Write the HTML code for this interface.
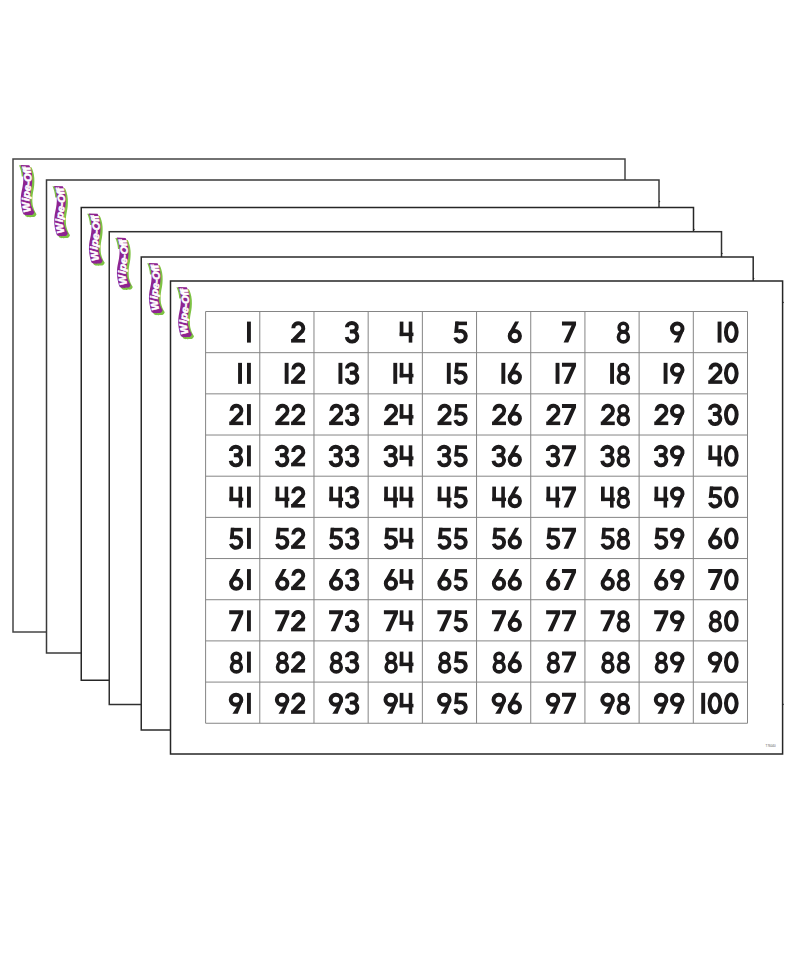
<!DOCTYPE html>
<html><head><meta charset="utf-8"><title>Wipe-Off Hundreds Chart</title>
<style>
html,body{margin:0;padding:0;background:#fff;}
body{width:800px;height:960px;overflow:hidden;font-family:"Liberation Sans",sans-serif;}
svg{display:block;}
</style></head><body>
<svg width="800" height="960" viewBox="0 0 800 960">
<defs><clipPath id="topclip"><rect x="0" y="0" width="12" height="17"/></clipPath><g id="g0"><ellipse cx="7.3" cy="10.5" rx="5.35" ry="8.95" fill="none" stroke-width="3.95"/></g><g id="g1"><rect x="0" y="0" width="3.9" height="21"/></g><g id="g2"><path d="M2.2,6.6 A5.0,5.0 0 1 1 11.4,9.3 L2.4,18.6" fill="none" stroke-width="3.95"/><rect x="0" y="17.4" width="14" height="3.6"/></g><g id="g3"><path d="M2.1,5.6 A4.9,4.2 0 1 1 7.0,9.8 M5.0,9.8 L7.0,9.8 A5.3,5.1 0 1 1 1.9,15.4" fill="none" stroke-width="3.95"/></g><g id="g4"><rect x="0" y="0" width="3.7" height="14.5"/><rect x="9.0" y="0" width="3.6" height="21"/><rect x="0" y="11" width="13.75" height="3.5"/></g><g id="g5"><rect x="2.0" y="0" width="11.75" height="3.6"/><path d="M2.1,0 L5.4,0 L5.0,11.2 L0.9,11.5 Z"/><path d="M4.55,10.0 A5.3,5.3 0 1 1 2.08,15.97" fill="none" stroke-width="3.95"/></g><g id="g6"><circle cx="7.03" cy="14.5" r="5.15" fill="none" stroke-width="3.95"/><path d="M7.3,0 L11.3,0 L3.9,13.6 L0.1,12.9 Z"/></g><g id="g7"><path d="M0,0 H14.06 V3.4 L6.3,21 H1.6 L9.6,3.8 H0 Z"/></g><g id="g8"><ellipse cx="6.8" cy="5.9" rx="4.25" ry="4.2" fill="none" stroke-width="3.4"/><ellipse cx="6.85" cy="15.3" rx="4.95" ry="4.95" fill="none" stroke-width="3.6"/></g><g id="g9"><ellipse cx="7.2" cy="6.9" rx="5.3" ry="5.0" fill="none" stroke-width="3.95"/><path d="M10.4,10.2 L14.4,7.6 L8.9,21 H3.6 Z"/></g></defs><rect x="13.0" y="159.0" width="612.00" height="473.00" fill="#fff" stroke="#444" stroke-width="1.5"/><g transform="translate(13.0,159.0)"><path d="M7.5,5.9 L16.3,6.2 C17.6,8.5 18.8,12 19.2,17 C19.5,22 19.0,27 18.0,31 C17.2,35 17.0,40 17.6,44 C18.2,47 19.5,50.5 21.4,53.2 C20.6,55 19.8,55.6 18.9,55.9 C18,56.3 17.2,55.6 16.2,56.1 C15.2,56.6 14.4,55.7 13.4,56.1 C12.4,56.4 11.5,55.9 10.5,55.3 C9.4,53 8.3,48.5 7.8,44 C7.5,40 7.9,35 8.9,31 C9.9,27 10.5,22 10.3,18 C10.1,13 9,9 7.5,5.9 Z" fill="#7dc243" transform="translate(2.1,2.0)"/><path d="M7.5,5.9 L16.3,6.2 C17.6,8.5 18.8,12 19.2,17 C19.5,22 19.0,27 18.0,31 C17.2,35 17.0,40 17.6,44 C18.2,47 19.5,50.5 21.4,53.2 C20.6,55 19.8,55.6 18.9,55.9 C18,56.3 17.2,55.6 16.2,56.1 C15.2,56.6 14.4,55.7 13.4,56.1 C12.4,56.4 11.5,55.9 10.5,55.3 C9.4,53 8.3,48.5 7.8,44 C7.5,40 7.9,35 8.9,31 C9.9,27 10.5,22 10.3,18 C10.1,13 9,9 7.5,5.9 Z" fill="#7dc243" transform="translate(-1.5,0.4)" clip-path="url(#topclip)"/><path d="M7.5,5.9 L16.3,6.2 C17.6,8.5 18.8,12 19.2,17 C19.5,22 19.0,27 18.0,31 C17.2,35 17.0,40 17.6,44 C18.2,47 19.5,50.5 21.4,53.2 C20.6,55 19.8,55.6 18.9,55.9 C18,56.3 17.2,55.6 16.2,56.1 C15.2,56.6 14.4,55.7 13.4,56.1 C12.4,56.4 11.5,55.9 10.5,55.3 C9.4,53 8.3,48.5 7.8,44 C7.5,40 7.9,35 8.9,31 C9.9,27 10.5,22 10.3,18 C10.1,13 9,9 7.5,5.9 Z" fill="#8e2491"/><path id="tp0" d="M18.6,54.5 C17.4,51 16.2,47 16.2,42 C16.2,37 17.1,33 17.7,29 C18.3,25 18.5,20 18.1,16 C17.8,12 17.1,9 16.1,5" fill="none"/><text font-family="Liberation Sans" font-weight="bold" font-style="italic" font-size="10.2" fill="#fff" stroke="#fff" stroke-width="0.55"><textPath href="#tp0" startOffset="50%" text-anchor="middle" textLength="46" lengthAdjust="spacingAndGlyphs">Wipe-Off</textPath></text></g><rect x="46.5" y="180.0" width="612.50" height="473.00" fill="#fff" stroke="#3a3a3a" stroke-width="1.5"/><g transform="translate(46.5,180.0)"><path d="M7.5,5.9 L16.3,6.2 C17.6,8.5 18.8,12 19.2,17 C19.5,22 19.0,27 18.0,31 C17.2,35 17.0,40 17.6,44 C18.2,47 19.5,50.5 21.4,53.2 C20.6,55 19.8,55.6 18.9,55.9 C18,56.3 17.2,55.6 16.2,56.1 C15.2,56.6 14.4,55.7 13.4,56.1 C12.4,56.4 11.5,55.9 10.5,55.3 C9.4,53 8.3,48.5 7.8,44 C7.5,40 7.9,35 8.9,31 C9.9,27 10.5,22 10.3,18 C10.1,13 9,9 7.5,5.9 Z" fill="#7dc243" transform="translate(2.1,2.0)"/><path d="M7.5,5.9 L16.3,6.2 C17.6,8.5 18.8,12 19.2,17 C19.5,22 19.0,27 18.0,31 C17.2,35 17.0,40 17.6,44 C18.2,47 19.5,50.5 21.4,53.2 C20.6,55 19.8,55.6 18.9,55.9 C18,56.3 17.2,55.6 16.2,56.1 C15.2,56.6 14.4,55.7 13.4,56.1 C12.4,56.4 11.5,55.9 10.5,55.3 C9.4,53 8.3,48.5 7.8,44 C7.5,40 7.9,35 8.9,31 C9.9,27 10.5,22 10.3,18 C10.1,13 9,9 7.5,5.9 Z" fill="#7dc243" transform="translate(-1.5,0.4)" clip-path="url(#topclip)"/><path d="M7.5,5.9 L16.3,6.2 C17.6,8.5 18.8,12 19.2,17 C19.5,22 19.0,27 18.0,31 C17.2,35 17.0,40 17.6,44 C18.2,47 19.5,50.5 21.4,53.2 C20.6,55 19.8,55.6 18.9,55.9 C18,56.3 17.2,55.6 16.2,56.1 C15.2,56.6 14.4,55.7 13.4,56.1 C12.4,56.4 11.5,55.9 10.5,55.3 C9.4,53 8.3,48.5 7.8,44 C7.5,40 7.9,35 8.9,31 C9.9,27 10.5,22 10.3,18 C10.1,13 9,9 7.5,5.9 Z" fill="#8e2491"/><path id="tp1" d="M18.6,54.5 C17.4,51 16.2,47 16.2,42 C16.2,37 17.1,33 17.7,29 C18.3,25 18.5,20 18.1,16 C17.8,12 17.1,9 16.1,5" fill="none"/><text font-family="Liberation Sans" font-weight="bold" font-style="italic" font-size="10.2" fill="#fff" stroke="#fff" stroke-width="0.55"><textPath href="#tp1" startOffset="50%" text-anchor="middle" textLength="46" lengthAdjust="spacingAndGlyphs">Wipe-Off</textPath></text></g><rect x="81.25" y="207.5" width="612.25" height="472.75" fill="#fff" stroke="#262626" stroke-width="1.5"/><g transform="translate(81.25,207.5)"><path d="M7.5,5.9 L16.3,6.2 C17.6,8.5 18.8,12 19.2,17 C19.5,22 19.0,27 18.0,31 C17.2,35 17.0,40 17.6,44 C18.2,47 19.5,50.5 21.4,53.2 C20.6,55 19.8,55.6 18.9,55.9 C18,56.3 17.2,55.6 16.2,56.1 C15.2,56.6 14.4,55.7 13.4,56.1 C12.4,56.4 11.5,55.9 10.5,55.3 C9.4,53 8.3,48.5 7.8,44 C7.5,40 7.9,35 8.9,31 C9.9,27 10.5,22 10.3,18 C10.1,13 9,9 7.5,5.9 Z" fill="#7dc243" transform="translate(2.1,2.0)"/><path d="M7.5,5.9 L16.3,6.2 C17.6,8.5 18.8,12 19.2,17 C19.5,22 19.0,27 18.0,31 C17.2,35 17.0,40 17.6,44 C18.2,47 19.5,50.5 21.4,53.2 C20.6,55 19.8,55.6 18.9,55.9 C18,56.3 17.2,55.6 16.2,56.1 C15.2,56.6 14.4,55.7 13.4,56.1 C12.4,56.4 11.5,55.9 10.5,55.3 C9.4,53 8.3,48.5 7.8,44 C7.5,40 7.9,35 8.9,31 C9.9,27 10.5,22 10.3,18 C10.1,13 9,9 7.5,5.9 Z" fill="#7dc243" transform="translate(-1.5,0.4)" clip-path="url(#topclip)"/><path d="M7.5,5.9 L16.3,6.2 C17.6,8.5 18.8,12 19.2,17 C19.5,22 19.0,27 18.0,31 C17.2,35 17.0,40 17.6,44 C18.2,47 19.5,50.5 21.4,53.2 C20.6,55 19.8,55.6 18.9,55.9 C18,56.3 17.2,55.6 16.2,56.1 C15.2,56.6 14.4,55.7 13.4,56.1 C12.4,56.4 11.5,55.9 10.5,55.3 C9.4,53 8.3,48.5 7.8,44 C7.5,40 7.9,35 8.9,31 C9.9,27 10.5,22 10.3,18 C10.1,13 9,9 7.5,5.9 Z" fill="#8e2491"/><path id="tp2" d="M18.6,54.5 C17.4,51 16.2,47 16.2,42 C16.2,37 17.1,33 17.7,29 C18.3,25 18.5,20 18.1,16 C17.8,12 17.1,9 16.1,5" fill="none"/><text font-family="Liberation Sans" font-weight="bold" font-style="italic" font-size="10.2" fill="#fff" stroke="#fff" stroke-width="0.55"><textPath href="#tp2" startOffset="50%" text-anchor="middle" textLength="46" lengthAdjust="spacingAndGlyphs">Wipe-Off</textPath></text></g><rect x="109.25" y="231.7" width="612.25" height="472.80" fill="#fff" stroke="#303030" stroke-width="1.5"/><g transform="translate(109.25,231.7)"><path d="M7.5,5.9 L16.3,6.2 C17.6,8.5 18.8,12 19.2,17 C19.5,22 19.0,27 18.0,31 C17.2,35 17.0,40 17.6,44 C18.2,47 19.5,50.5 21.4,53.2 C20.6,55 19.8,55.6 18.9,55.9 C18,56.3 17.2,55.6 16.2,56.1 C15.2,56.6 14.4,55.7 13.4,56.1 C12.4,56.4 11.5,55.9 10.5,55.3 C9.4,53 8.3,48.5 7.8,44 C7.5,40 7.9,35 8.9,31 C9.9,27 10.5,22 10.3,18 C10.1,13 9,9 7.5,5.9 Z" fill="#7dc243" transform="translate(2.1,2.0)"/><path d="M7.5,5.9 L16.3,6.2 C17.6,8.5 18.8,12 19.2,17 C19.5,22 19.0,27 18.0,31 C17.2,35 17.0,40 17.6,44 C18.2,47 19.5,50.5 21.4,53.2 C20.6,55 19.8,55.6 18.9,55.9 C18,56.3 17.2,55.6 16.2,56.1 C15.2,56.6 14.4,55.7 13.4,56.1 C12.4,56.4 11.5,55.9 10.5,55.3 C9.4,53 8.3,48.5 7.8,44 C7.5,40 7.9,35 8.9,31 C9.9,27 10.5,22 10.3,18 C10.1,13 9,9 7.5,5.9 Z" fill="#7dc243" transform="translate(-1.5,0.4)" clip-path="url(#topclip)"/><path d="M7.5,5.9 L16.3,6.2 C17.6,8.5 18.8,12 19.2,17 C19.5,22 19.0,27 18.0,31 C17.2,35 17.0,40 17.6,44 C18.2,47 19.5,50.5 21.4,53.2 C20.6,55 19.8,55.6 18.9,55.9 C18,56.3 17.2,55.6 16.2,56.1 C15.2,56.6 14.4,55.7 13.4,56.1 C12.4,56.4 11.5,55.9 10.5,55.3 C9.4,53 8.3,48.5 7.8,44 C7.5,40 7.9,35 8.9,31 C9.9,27 10.5,22 10.3,18 C10.1,13 9,9 7.5,5.9 Z" fill="#8e2491"/><path id="tp3" d="M18.6,54.5 C17.4,51 16.2,47 16.2,42 C16.2,37 17.1,33 17.7,29 C18.3,25 18.5,20 18.1,16 C17.8,12 17.1,9 16.1,5" fill="none"/><text font-family="Liberation Sans" font-weight="bold" font-style="italic" font-size="10.2" fill="#fff" stroke="#fff" stroke-width="0.55"><textPath href="#tp3" startOffset="50%" text-anchor="middle" textLength="46" lengthAdjust="spacingAndGlyphs">Wipe-Off</textPath></text></g><rect x="141.25" y="257.0" width="611.95" height="473.00" fill="#fff" stroke="#2a2a2a" stroke-width="1.5"/><g transform="translate(141.25,257.0)"><path d="M7.5,5.9 L16.3,6.2 C17.6,8.5 18.8,12 19.2,17 C19.5,22 19.0,27 18.0,31 C17.2,35 17.0,40 17.6,44 C18.2,47 19.5,50.5 21.4,53.2 C20.6,55 19.8,55.6 18.9,55.9 C18,56.3 17.2,55.6 16.2,56.1 C15.2,56.6 14.4,55.7 13.4,56.1 C12.4,56.4 11.5,55.9 10.5,55.3 C9.4,53 8.3,48.5 7.8,44 C7.5,40 7.9,35 8.9,31 C9.9,27 10.5,22 10.3,18 C10.1,13 9,9 7.5,5.9 Z" fill="#7dc243" transform="translate(2.1,2.0)"/><path d="M7.5,5.9 L16.3,6.2 C17.6,8.5 18.8,12 19.2,17 C19.5,22 19.0,27 18.0,31 C17.2,35 17.0,40 17.6,44 C18.2,47 19.5,50.5 21.4,53.2 C20.6,55 19.8,55.6 18.9,55.9 C18,56.3 17.2,55.6 16.2,56.1 C15.2,56.6 14.4,55.7 13.4,56.1 C12.4,56.4 11.5,55.9 10.5,55.3 C9.4,53 8.3,48.5 7.8,44 C7.5,40 7.9,35 8.9,31 C9.9,27 10.5,22 10.3,18 C10.1,13 9,9 7.5,5.9 Z" fill="#7dc243" transform="translate(-1.5,0.4)" clip-path="url(#topclip)"/><path d="M7.5,5.9 L16.3,6.2 C17.6,8.5 18.8,12 19.2,17 C19.5,22 19.0,27 18.0,31 C17.2,35 17.0,40 17.6,44 C18.2,47 19.5,50.5 21.4,53.2 C20.6,55 19.8,55.6 18.9,55.9 C18,56.3 17.2,55.6 16.2,56.1 C15.2,56.6 14.4,55.7 13.4,56.1 C12.4,56.4 11.5,55.9 10.5,55.3 C9.4,53 8.3,48.5 7.8,44 C7.5,40 7.9,35 8.9,31 C9.9,27 10.5,22 10.3,18 C10.1,13 9,9 7.5,5.9 Z" fill="#8e2491"/><path id="tp4" d="M18.6,54.5 C17.4,51 16.2,47 16.2,42 C16.2,37 17.1,33 17.7,29 C18.3,25 18.5,20 18.1,16 C17.8,12 17.1,9 16.1,5" fill="none"/><text font-family="Liberation Sans" font-weight="bold" font-style="italic" font-size="10.2" fill="#fff" stroke="#fff" stroke-width="0.55"><textPath href="#tp4" startOffset="50%" text-anchor="middle" textLength="46" lengthAdjust="spacingAndGlyphs">Wipe-Off</textPath></text></g><rect x="170.5" y="281.0" width="612.10" height="473.00" fill="#fff" stroke="#262626" stroke-width="1.5"/><g transform="translate(170.5,281.0)"><path d="M7.5,5.9 L16.3,6.2 C17.6,8.5 18.8,12 19.2,17 C19.5,22 19.0,27 18.0,31 C17.2,35 17.0,40 17.6,44 C18.2,47 19.5,50.5 21.4,53.2 C20.6,55 19.8,55.6 18.9,55.9 C18,56.3 17.2,55.6 16.2,56.1 C15.2,56.6 14.4,55.7 13.4,56.1 C12.4,56.4 11.5,55.9 10.5,55.3 C9.4,53 8.3,48.5 7.8,44 C7.5,40 7.9,35 8.9,31 C9.9,27 10.5,22 10.3,18 C10.1,13 9,9 7.5,5.9 Z" fill="#7dc243" transform="translate(2.1,2.0)"/><path d="M7.5,5.9 L16.3,6.2 C17.6,8.5 18.8,12 19.2,17 C19.5,22 19.0,27 18.0,31 C17.2,35 17.0,40 17.6,44 C18.2,47 19.5,50.5 21.4,53.2 C20.6,55 19.8,55.6 18.9,55.9 C18,56.3 17.2,55.6 16.2,56.1 C15.2,56.6 14.4,55.7 13.4,56.1 C12.4,56.4 11.5,55.9 10.5,55.3 C9.4,53 8.3,48.5 7.8,44 C7.5,40 7.9,35 8.9,31 C9.9,27 10.5,22 10.3,18 C10.1,13 9,9 7.5,5.9 Z" fill="#7dc243" transform="translate(-1.5,0.4)" clip-path="url(#topclip)"/><path d="M7.5,5.9 L16.3,6.2 C17.6,8.5 18.8,12 19.2,17 C19.5,22 19.0,27 18.0,31 C17.2,35 17.0,40 17.6,44 C18.2,47 19.5,50.5 21.4,53.2 C20.6,55 19.8,55.6 18.9,55.9 C18,56.3 17.2,55.6 16.2,56.1 C15.2,56.6 14.4,55.7 13.4,56.1 C12.4,56.4 11.5,55.9 10.5,55.3 C9.4,53 8.3,48.5 7.8,44 C7.5,40 7.9,35 8.9,31 C9.9,27 10.5,22 10.3,18 C10.1,13 9,9 7.5,5.9 Z" fill="#8e2491"/><path id="tp5" d="M18.6,54.5 C17.4,51 16.2,47 16.2,42 C16.2,37 17.1,33 17.7,29 C18.3,25 18.5,20 18.1,16 C17.8,12 17.1,9 16.1,5" fill="none"/><text font-family="Liberation Sans" font-weight="bold" font-style="italic" font-size="10.2" fill="#fff" stroke="#fff" stroke-width="0.55"><textPath href="#tp5" startOffset="50%" text-anchor="middle" textLength="46" lengthAdjust="spacingAndGlyphs">Wipe-Off</textPath></text></g><path d="M659.0,200.4 L660.4,201.5 L659.0,202.6 Z" fill="#222"/><path d="M693.5,228.3 L694.9,229.4 L693.5,230.5 Z" fill="#222"/><path d="M721.5,252.3 L722.9,253.4 L721.5,254.5 Z" fill="#222"/><path d="M753.2,277.29999999999995 L754.6,278.4 L753.2,279.5 Z" fill="#222"/><path d="M782.6,301.29999999999995 L784.0,302.4 L782.6,303.5 Z" fill="#222"/><path d="M782.6,703.1999999999999 L784.0,704.3 L782.6,705.4 Z" fill="#222"/><g stroke="#858585" stroke-width="1"><line x1="205.60" y1="311.5" x2="205.60" y2="723.25"/><line x1="205.6" y1="311.50" x2="747.50" y2="311.50"/><line x1="259.79" y1="311.5" x2="259.79" y2="723.25"/><line x1="205.6" y1="352.68" x2="747.50" y2="352.68"/><line x1="313.98" y1="311.5" x2="313.98" y2="723.25"/><line x1="205.6" y1="393.85" x2="747.50" y2="393.85"/><line x1="368.17" y1="311.5" x2="368.17" y2="723.25"/><line x1="205.6" y1="435.02" x2="747.50" y2="435.02"/><line x1="422.36" y1="311.5" x2="422.36" y2="723.25"/><line x1="205.6" y1="476.20" x2="747.50" y2="476.20"/><line x1="476.55" y1="311.5" x2="476.55" y2="723.25"/><line x1="205.6" y1="517.38" x2="747.50" y2="517.38"/><line x1="530.74" y1="311.5" x2="530.74" y2="723.25"/><line x1="205.6" y1="558.55" x2="747.50" y2="558.55"/><line x1="584.93" y1="311.5" x2="584.93" y2="723.25"/><line x1="205.6" y1="599.72" x2="747.50" y2="599.72"/><line x1="639.12" y1="311.5" x2="639.12" y2="723.25"/><line x1="205.6" y1="640.90" x2="747.50" y2="640.90"/><line x1="693.31" y1="311.5" x2="693.31" y2="723.25"/><line x1="205.6" y1="682.08" x2="747.50" y2="682.08"/><line x1="747.50" y1="311.5" x2="747.50" y2="723.25"/><line x1="205.6" y1="723.25" x2="747.50" y2="723.25"/></g><g fill="#1c1a1b" stroke="#1c1a1b" stroke-width="0"><use href="#g1" x="246.99" y="321.60"/><use href="#g2" x="291.08" y="321.60"/><use href="#g3" x="344.87" y="321.60"/><use href="#g4" x="399.71" y="321.60"/><use href="#g5" x="453.25" y="321.60"/><use href="#g6" x="507.78" y="321.60"/><use href="#g7" x="561.97" y="321.60"/><use href="#g8" x="616.52" y="321.60"/><use href="#g9" x="670.01" y="321.60"/><use href="#g0" x="724.00" y="321.60"/><use href="#g1" x="717.60" y="321.60"/><use href="#g1" x="246.99" y="362.85"/><use href="#g1" x="238.09" y="362.85"/><use href="#g2" x="291.08" y="362.85"/><use href="#g1" x="284.68" y="362.85"/><use href="#g3" x="344.87" y="362.85"/><use href="#g1" x="338.47" y="362.85"/><use href="#g4" x="399.71" y="362.85"/><use href="#g1" x="393.31" y="362.85"/><use href="#g5" x="453.25" y="362.85"/><use href="#g1" x="446.85" y="362.85"/><use href="#g6" x="507.78" y="362.85"/><use href="#g1" x="501.38" y="362.85"/><use href="#g7" x="561.97" y="362.85"/><use href="#g1" x="555.57" y="362.85"/><use href="#g8" x="616.52" y="362.85"/><use href="#g1" x="610.12" y="362.85"/><use href="#g9" x="670.01" y="362.85"/><use href="#g1" x="663.61" y="362.85"/><use href="#g0" x="724.00" y="362.85"/><use href="#g2" x="708.25" y="362.85"/><use href="#g1" x="246.99" y="404.10"/><use href="#g2" x="229.24" y="404.10"/><use href="#g2" x="291.08" y="404.10"/><use href="#g2" x="275.33" y="404.10"/><use href="#g3" x="344.87" y="404.10"/><use href="#g2" x="329.12" y="404.10"/><use href="#g4" x="399.71" y="404.10"/><use href="#g2" x="383.96" y="404.10"/><use href="#g5" x="453.25" y="404.10"/><use href="#g2" x="437.50" y="404.10"/><use href="#g6" x="507.78" y="404.10"/><use href="#g2" x="492.03" y="404.10"/><use href="#g7" x="561.97" y="404.10"/><use href="#g2" x="546.22" y="404.10"/><use href="#g8" x="616.52" y="404.10"/><use href="#g2" x="600.77" y="404.10"/><use href="#g9" x="670.01" y="404.10"/><use href="#g2" x="654.26" y="404.10"/><use href="#g0" x="724.00" y="404.10"/><use href="#g3" x="707.85" y="404.10"/><use href="#g1" x="246.99" y="445.35"/><use href="#g3" x="228.84" y="445.35"/><use href="#g2" x="291.08" y="445.35"/><use href="#g3" x="274.93" y="445.35"/><use href="#g3" x="344.87" y="445.35"/><use href="#g3" x="328.72" y="445.35"/><use href="#g4" x="399.71" y="445.35"/><use href="#g3" x="383.56" y="445.35"/><use href="#g5" x="453.25" y="445.35"/><use href="#g3" x="437.10" y="445.35"/><use href="#g6" x="507.78" y="445.35"/><use href="#g3" x="491.63" y="445.35"/><use href="#g7" x="561.97" y="445.35"/><use href="#g3" x="545.82" y="445.35"/><use href="#g8" x="616.52" y="445.35"/><use href="#g3" x="600.37" y="445.35"/><use href="#g9" x="670.01" y="445.35"/><use href="#g3" x="653.86" y="445.35"/><use href="#g0" x="724.00" y="445.35"/><use href="#g4" x="708.50" y="445.35"/><use href="#g1" x="246.99" y="486.60"/><use href="#g4" x="229.49" y="486.60"/><use href="#g2" x="291.08" y="486.60"/><use href="#g4" x="275.58" y="486.60"/><use href="#g3" x="344.87" y="486.60"/><use href="#g4" x="329.37" y="486.60"/><use href="#g4" x="399.71" y="486.60"/><use href="#g4" x="384.21" y="486.60"/><use href="#g5" x="453.25" y="486.60"/><use href="#g4" x="437.75" y="486.60"/><use href="#g6" x="507.78" y="486.60"/><use href="#g4" x="492.28" y="486.60"/><use href="#g7" x="561.97" y="486.60"/><use href="#g4" x="546.47" y="486.60"/><use href="#g8" x="616.52" y="486.60"/><use href="#g4" x="601.02" y="486.60"/><use href="#g9" x="670.01" y="486.60"/><use href="#g4" x="654.51" y="486.60"/><use href="#g0" x="724.00" y="486.60"/><use href="#g5" x="707.85" y="486.60"/><use href="#g1" x="246.99" y="527.85"/><use href="#g5" x="228.84" y="527.85"/><use href="#g2" x="291.08" y="527.85"/><use href="#g5" x="274.93" y="527.85"/><use href="#g3" x="344.87" y="527.85"/><use href="#g5" x="328.72" y="527.85"/><use href="#g4" x="399.71" y="527.85"/><use href="#g5" x="383.56" y="527.85"/><use href="#g5" x="453.25" y="527.85"/><use href="#g5" x="437.10" y="527.85"/><use href="#g6" x="507.78" y="527.85"/><use href="#g5" x="491.63" y="527.85"/><use href="#g7" x="561.97" y="527.85"/><use href="#g5" x="545.82" y="527.85"/><use href="#g8" x="616.52" y="527.85"/><use href="#g5" x="600.37" y="527.85"/><use href="#g9" x="670.01" y="527.85"/><use href="#g5" x="653.86" y="527.85"/><use href="#g0" x="724.00" y="527.85"/><use href="#g6" x="708.19" y="527.85"/><use href="#g1" x="246.99" y="569.10"/><use href="#g6" x="229.18" y="569.10"/><use href="#g2" x="291.08" y="569.10"/><use href="#g6" x="275.27" y="569.10"/><use href="#g3" x="344.87" y="569.10"/><use href="#g6" x="329.06" y="569.10"/><use href="#g4" x="399.71" y="569.10"/><use href="#g6" x="383.90" y="569.10"/><use href="#g5" x="453.25" y="569.10"/><use href="#g6" x="437.44" y="569.10"/><use href="#g6" x="507.78" y="569.10"/><use href="#g6" x="491.97" y="569.10"/><use href="#g7" x="561.97" y="569.10"/><use href="#g6" x="546.16" y="569.10"/><use href="#g8" x="616.52" y="569.10"/><use href="#g6" x="600.71" y="569.10"/><use href="#g9" x="670.01" y="569.10"/><use href="#g6" x="654.20" y="569.10"/><use href="#g0" x="724.00" y="569.10"/><use href="#g7" x="708.19" y="569.10"/><use href="#g1" x="246.99" y="610.35"/><use href="#g7" x="229.18" y="610.35"/><use href="#g2" x="291.08" y="610.35"/><use href="#g7" x="275.27" y="610.35"/><use href="#g3" x="344.87" y="610.35"/><use href="#g7" x="329.06" y="610.35"/><use href="#g4" x="399.71" y="610.35"/><use href="#g7" x="383.90" y="610.35"/><use href="#g5" x="453.25" y="610.35"/><use href="#g7" x="437.44" y="610.35"/><use href="#g6" x="507.78" y="610.35"/><use href="#g7" x="491.97" y="610.35"/><use href="#g7" x="561.97" y="610.35"/><use href="#g7" x="546.16" y="610.35"/><use href="#g8" x="616.52" y="610.35"/><use href="#g7" x="600.71" y="610.35"/><use href="#g9" x="670.01" y="610.35"/><use href="#g7" x="654.20" y="610.35"/><use href="#g0" x="724.00" y="610.35"/><use href="#g8" x="708.55" y="610.35"/><use href="#g1" x="246.99" y="651.60"/><use href="#g8" x="229.54" y="651.60"/><use href="#g2" x="291.08" y="651.60"/><use href="#g8" x="275.63" y="651.60"/><use href="#g3" x="344.87" y="651.60"/><use href="#g8" x="329.42" y="651.60"/><use href="#g4" x="399.71" y="651.60"/><use href="#g8" x="384.26" y="651.60"/><use href="#g5" x="453.25" y="651.60"/><use href="#g8" x="437.80" y="651.60"/><use href="#g6" x="507.78" y="651.60"/><use href="#g8" x="492.33" y="651.60"/><use href="#g7" x="561.97" y="651.60"/><use href="#g8" x="546.52" y="651.60"/><use href="#g8" x="616.52" y="651.60"/><use href="#g8" x="601.07" y="651.60"/><use href="#g9" x="670.01" y="651.60"/><use href="#g8" x="654.56" y="651.60"/><use href="#g0" x="724.00" y="651.60"/><use href="#g9" x="707.85" y="651.60"/><use href="#g1" x="246.99" y="692.85"/><use href="#g9" x="228.84" y="692.85"/><use href="#g2" x="291.08" y="692.85"/><use href="#g9" x="274.93" y="692.85"/><use href="#g3" x="344.87" y="692.85"/><use href="#g9" x="328.72" y="692.85"/><use href="#g4" x="399.71" y="692.85"/><use href="#g9" x="383.56" y="692.85"/><use href="#g5" x="453.25" y="692.85"/><use href="#g9" x="437.10" y="692.85"/><use href="#g6" x="507.78" y="692.85"/><use href="#g9" x="491.63" y="692.85"/><use href="#g7" x="561.97" y="692.85"/><use href="#g9" x="545.82" y="692.85"/><use href="#g8" x="616.52" y="692.85"/><use href="#g9" x="600.37" y="692.85"/><use href="#g9" x="670.01" y="692.85"/><use href="#g9" x="653.86" y="692.85"/><use href="#g0" x="724.00" y="692.85"/><use href="#g0" x="707.65" y="692.85"/><use href="#g1" x="701.25" y="692.85"/></g><text x="765.6" y="747.4" font-family="Liberation Sans" font-size="3.2" fill="#555" textLength="10" lengthAdjust="spacingAndGlyphs">T76040</text>
</svg>
</body></html>
